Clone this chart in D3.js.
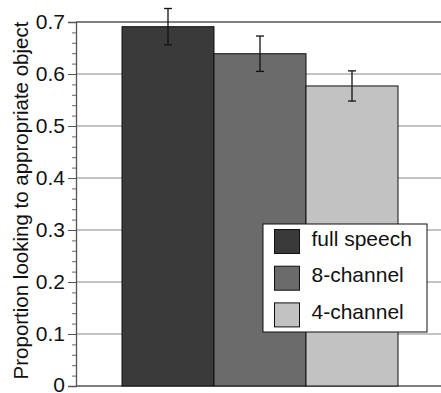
<!DOCTYPE html>
<html><head><meta charset="utf-8">
<script src="https://cdn.jsdelivr.net/npm/d3@7"></script>
<style>body{margin:0;background:#fff}svg{display:block}</style>
</head><body>
<svg id="c" width="441" height="393"></svg>
<script>
const categories = ["full speech", "8-channel", "4-channel"];
const values = [0.691, 0.639, 0.577];
const errors = [0.035, 0.034, 0.029];
const colors = ["#3a3a3a", "#6b6b6b", "#c2c2c2"];
const majorTicks = [0, 0.1, 0.2, 0.3, 0.4, 0.5, 0.6, 0.7];
const yLabel = "Proportion looking to appropriate object";

(function () {
const svg = d3.select("#c");
const font = "'Liberation Sans', Arial, Helvetica, sans-serif";
const mLeft = 76, mRight = 441, mTop = 22, mBottom = 386;
const y = d3.scaleLinear().domain([0, 0.7]).range([mBottom, mTop]);
const x = d3.scaleBand().domain(categories).range([122, 398]).padding(0);

svg.append("g").selectAll("line").data(majorTicks.filter(d => d > 0 && d < 0.7)).join("line")
  .attr("x1", mLeft).attr("x2", mRight).attr("y1", d => y(d)).attr("y2", d => y(d))
  .attr("stroke", "#888").attr("stroke-width", 1.2);
svg.append("line").attr("x1", mLeft).attr("x2", mRight).attr("y1", y(0.7)).attr("y2", y(0.7))
  .attr("stroke", "#555").attr("stroke-width", 1.3);
svg.append("line").attr("x1", mLeft).attr("x2", mRight).attr("y1", y(0)).attr("y2", y(0))
  .attr("stroke", "#555").attr("stroke-width", 1.3);

const minor = d3.range(0, 0.7001, 0.02).filter(v => Math.abs(v*10 - Math.round(v*10)) > 1e-6);
svg.append("g").attr("transform", `translate(${mLeft},0)`)
  .call(d3.axisLeft(y).tickValues(minor).tickSize(4).tickFormat(""))
  .call(g => g.select(".domain").remove())
  .call(g => g.selectAll("line").attr("stroke", "#666"));
svg.append("g").attr("transform", `translate(${mLeft},0)`)
  .call(d3.axisLeft(y).tickValues(majorTicks).tickSize(8).tickPadding(3)
    .tickFormat(d => d === 0 ? "0" : d3.format(".1f")(d)))
  .call(g => g.select(".domain").attr("stroke", "#555").attr("stroke-width", 1.3))
  .call(g => g.selectAll("line").attr("stroke", "#555"))
  .call(g => g.selectAll("text").attr("font-family", font).attr("font-size", 21).attr("fill", "#111")
    .attr("dy", d => d === 0 ? "0.26em" : "0.32em"));

svg.append("g").selectAll("rect").data(categories).join("rect")
  .attr("x", d => x(d)).attr("width", x.bandwidth())
  .attr("y", (d, i) => y(values[i])).attr("height", (d, i) => y(0) - y(values[i]))
  .attr("fill", (d, i) => colors[i]).attr("stroke", "#111").attr("stroke-width", 1);

const eb = svg.append("g").attr("stroke", "#111").attr("stroke-width", 1.3);
categories.forEach((c, i) => {
  const cx = x(c) + x.bandwidth() / 2;
  const hi = y(values[i] + errors[i]), lo = y(values[i] - errors[i]);
  eb.append("line").attr("x1", cx).attr("x2", cx).attr("y1", hi).attr("y2", lo);
  eb.append("line").attr("x1", cx - 4).attr("x2", cx + 4).attr("y1", hi).attr("y2", hi);
  eb.append("line").attr("x1", cx - 4).attr("x2", cx + 4).attr("y1", lo).attr("y2", lo);
});

svg.append("text").attr("transform", `translate(27.5,200.5) rotate(-90)`)
  .attr("text-anchor", "middle").attr("font-family", font).attr("font-size", 20.5).attr("fill", "#111")
  .text(yLabel);

const lg = svg.append("g").attr("transform", "translate(263,224)");
lg.append("rect").attr("width", 164).attr("height", 108).attr("fill", "#fff").attr("stroke", "#111").attr("stroke-width", 1);
categories.forEach((c, i) => {
  const row = lg.append("g").attr("transform", `translate(11.5,${5.5 + i * 36.7})`);
  row.append("rect").attr("width", 25).attr("height", 24).attr("fill", colors[i]).attr("stroke", "#111").attr("stroke-width", 1);
  row.append("text").attr("x", 37).attr("y", 16)
    .attr("font-family", font).attr("font-size", 21).attr("fill", "#111").text(c);
});
})();
</script>
</body></html>
